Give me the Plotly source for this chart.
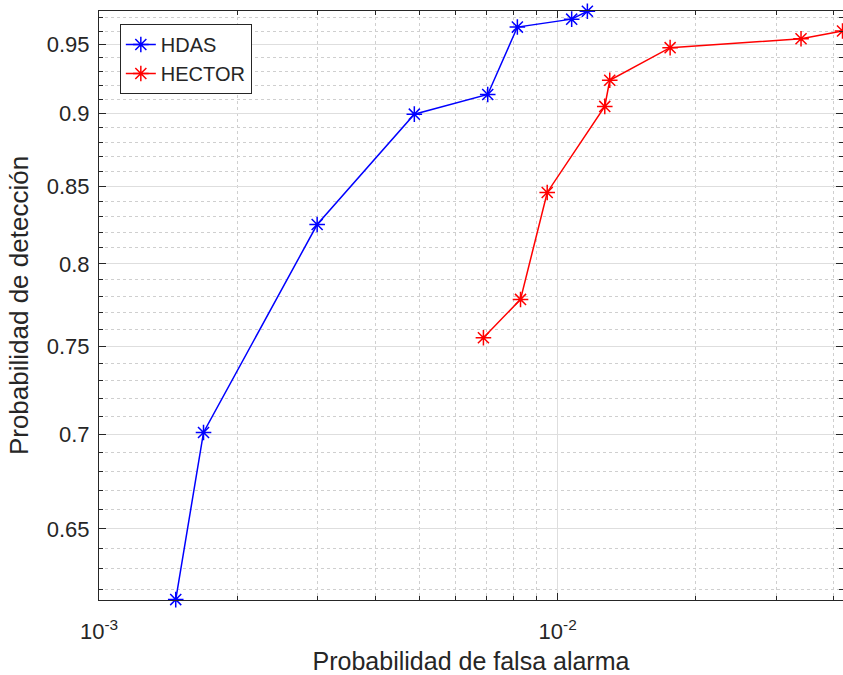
import math
import plotly.graph_objects as go

# ---- data ----
hdas_x = [0.00147, 0.00169, 0.00299, 0.00487, 0.00704, 0.00817, 0.01073, 0.01161]
hdas_y = [0.615, 0.701, 0.825, 0.8995, 0.9135, 0.963, 0.969, 0.975]
hector_x = [0.00689, 0.00830, 0.00949, 0.01267, 0.01299, 0.01759, 0.03394, 0.0418]
hector_y = [0.755, 0.778, 0.846, 0.905, 0.9237, 0.9476, 0.9542, 0.960]

x_major = [0.001, 0.01]
x_major_text = ["10<sup>-3</sup>", "10<sup>-2</sup>"]
x_minor = [0.002, 0.003, 0.004, 0.005, 0.006, 0.007, 0.008, 0.009, 0.02, 0.03, 0.04]
y_major = [0.65, 0.70, 0.75, 0.80, 0.85, 0.90, 0.95]
y_major_text = ["0.65", "0.7", "0.75", "0.8", "0.85", "0.9", "0.95"]
y_minor = [0.62, 0.63, 0.64, 0.66, 0.67, 0.68, 0.69, 0.71, 0.72, 0.73, 0.74,
           0.76, 0.77, 0.78, 0.79, 0.81, 0.82, 0.83, 0.84, 0.86, 0.87, 0.88,
           0.89, 0.91, 0.92, 0.93, 0.94, 0.96, 0.97]

x_lim = [0.001, 0.0419]
y_lim = [0.6148, 0.9752]

AX = "#262626"
FONT = "Liberation Sans, Arial, Helvetica, sans-serif"

fig = go.Figure()
fig.add_trace(go.Scatter(
    x=hdas_x, y=hdas_y, mode="lines+markers", name="HDAS",
    line=dict(color="#0000ff", width=1.5),
    marker=dict(symbol="asterisk-open", size=13, color="#0000ff",
                line=dict(color="#0000ff", width=1.5)),
    cliponaxis=False,
))
fig.add_trace(go.Scatter(
    x=hector_x, y=hector_y, mode="lines+markers", name="HECTOR",
    line=dict(color="#ff0000", width=1.5),
    marker=dict(symbol="asterisk-open", size=13, color="#ff0000",
                line=dict(color="#ff0000", width=1.5)),
    cliponaxis=False,
))

fig.update_layout(
    width=843, height=675,
    margin=dict(l=99, r=0, t=11, b=75),
    paper_bgcolor="white", plot_bgcolor="white",
    font=dict(family=FONT, color=AX),
    showlegend=True,
    legend=dict(
        x=0.028, y=0.978, xanchor="left", yanchor="top",
        bgcolor="white", bordercolor=AX, borderwidth=1,
        font=dict(size=20, family=FONT, color=AX),
        tracegroupgap=0, itemwidth=30,
    ),
    xaxis=dict(
        type="log",
        range=[math.log10(x_lim[0]), math.log10(x_lim[1])],
        tickmode="array", tickvals=x_major, ticktext=x_major_text,
        ticks="inside", ticklen=7, tickcolor=AX, tickwidth=1,
        showline=True, linecolor=AX, linewidth=1, mirror="ticks",
        showgrid=True, gridcolor="#dedede", gridwidth=1,
        zeroline=False, ticklabelstandoff=12,
        tickfont=dict(size=22, family=FONT, color=AX),
        title=dict(text="Probabilidad de falsa alarma",
                   font=dict(size=25, family=FONT, color=AX), standoff=10),
        minor=dict(tickmode="array", tickvals=x_minor, ticks="inside",
                   ticklen=4, tickcolor=AX, tickwidth=1,
                   showgrid=True, gridcolor="#cfcfcf", gridwidth=1,
                   griddash="3px,3px"),
    ),
    yaxis=dict(
        type="log",
        range=[math.log10(y_lim[0]), math.log10(y_lim[1])],
        tickmode="array", tickvals=y_major, ticktext=y_major_text,
        ticks="inside", ticklen=7, tickcolor=AX, tickwidth=1,
        showline=True, linecolor=AX, linewidth=1, mirror="ticks",
        showgrid=True, gridcolor="#dedede", gridwidth=1,
        zeroline=False, ticklabelstandoff=4,
        tickfont=dict(size=22, family=FONT, color=AX),
        title=dict(text="Probabilidad de detección",
                   font=dict(size=26, family=FONT, color=AX), standoff=10),
        minor=dict(tickmode="array", tickvals=y_minor, ticks="inside",
                   ticklen=4, tickcolor=AX, tickwidth=1,
                   showgrid=True, gridcolor="#cfcfcf", gridwidth=1,
                   griddash="3px,3px"),
    ),
)

fig.write_html("out.html")
